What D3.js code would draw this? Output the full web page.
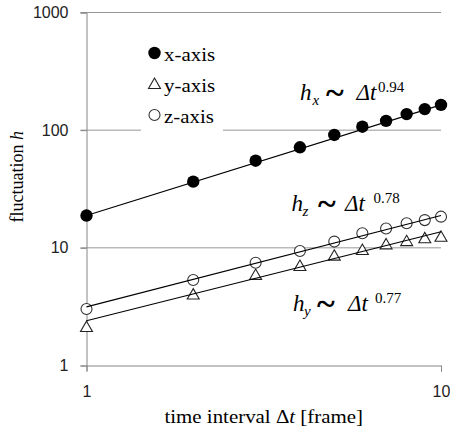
<head>
  <meta charset="UTF-8">
  <script src="https://d3js.org/d3.v7.min.js"></script>
</head>
<body style="margin:0;background:#fff">
  <svg id="chart" width="450" height="429"></svg>
</body>
<style>
  .tick text { font-family: 'Liberation Sans', Arial, sans-serif; font-size: 16px; fill: #222; }
</style>
<script type="text/javascript">
  // data
  const frames = [1, 2, 3, 4, 5, 6, 7, 8, 9, 10];
  const hx = [18.8, 36.5, 55.0, 71.5, 91, 107, 120, 137, 151, 164];
  const hy = [2.12, 4.01, 5.88, 7.01, 8.58, 9.59, 10.7, 11.4, 12.05, 12.4];
  const hz = [3.02, 5.33, 7.47, 9.40, 11.3, 13.3, 14.6, 16.2, 17.2, 18.4];
  // fit lines, value at t = 1 and t = 10
  const fitEnds = [1, 10];
  const fitX = [18.8, 164];
  const fitY = [2.40, 13.7];
  const fitZ = [3.15, 18.8];
  const yTicks = [1, 10, 100, 1000];
  const xTicks = [1, 10];
  const legendNames = ['x-axis', 'y-axis', 'z-axis'];

  const SERIF = "'Liberation Serif', 'Times New Roman', 'DejaVu Serif', serif";

  const svg = d3.select('#chart');

  const x = d3.scaleLog().domain([1, 10]).range([86.5, 441]);
  const y = d3.scaleLog().domain([1, 1000]).range([365.5, 12.5]);

  // gridlines
  svg.append('g')
    .selectAll('line')
    .data(yTicks.slice(1))
    .join('line')
    .attr('x1', x(1) - 6)
    .attr('x2', x(10))
    .attr('y1', d => y(d))
    .attr('y2', d => y(d))
    .attr('stroke', '#979797')
    .attr('stroke-width', 1);

  // axes
  svg.append('g')
    .attr('transform', `translate(${x(1)},0)`)
    .call(d3.axisLeft(y).tickValues(yTicks).tickFormat(d3.format('d')).tickSizeOuter(0).tickSize(6).tickPadding(12));
  svg.append('g')
    .attr('transform', `translate(0,${y(1)})`)
    .call(d3.axisBottom(x).tickValues(xTicks).tickFormat(d3.format('d')).tickSizeOuter(0).tickSize(6).tickPadding(14));
  svg.selectAll('.domain, .tick line').attr('stroke', '#868686');

  // white box behind legend
  svg.append('rect')
    .attr('x', 141).attr('y', 36).attr('width', 82).attr('height', 96)
    .attr('fill', '#fff');

  const series = [
    { vals: hx, fit: fitX, marker: 'dot' },
    { vals: hy, fit: fitY, marker: 'tri' },
    { vals: hz, fit: fitZ, marker: 'ring' }
  ];

  const tri = d3.symbol().type(d3.symbolTriangle).size(62);

  function drawMarker(sel, kind) {
    if (kind === 'dot') {
      sel.append('circle').attr('r', 6.2).attr('fill', '#000');
    } else if (kind === 'ring') {
      sel.append('circle').attr('r', 5.5).attr('fill', '#fff').attr('stroke', '#333').attr('stroke-width', 1.1);
    } else {
      sel.append('path').attr('d', tri).attr('transform', 'translate(0,1)')
        .attr('fill', '#fff').attr('stroke', '#222').attr('stroke-width', 1.1);
    }
  }

  const marks = svg.append('g');
  series.forEach(s => {
    marks.append('g')
      .selectAll('g')
      .data(s.vals)
      .join('g')
      .attr('transform', (d, i) => `translate(${x(frames[i])},${y(d)})`)
      .each(function () { drawMarker(d3.select(this), s.marker); });
  });

  // fit lines on top
  const line = d3.line().x((d, i) => x(fitEnds[i])).y(d => y(d));
  svg.append('g')
    .selectAll('path')
    .data(series)
    .join('path')
    .attr('d', d => line(d.fit))
    .attr('fill', 'none')
    .attr('stroke', '#000')
    .attr('stroke-width', 1.1);

  // legend
  const legend = svg.append('g');
  legendNames.forEach((name, i) => {
    const ly = 53 + i * 31;
    drawMarker(legend.append('g').attr('transform', `translate(154.5,${ly})`), series[i].marker);
    legend.append('text')
      .attr('transform', `translate(164,${ly + 8}) scale(1.1,1)`)
      .attr('font-family', SERIF)
      .attr('font-size', 19)
      .attr('fill', '#000')
      .text(name);
  });

  // fit labels
  const notes = [
    { sub: 'x', exp: '0.94', x: 300, y: 100, dx: [12.5, 26, 56.5, 78] },
    { sub: 'z', exp: '0.78', x: 291.5, y: 211, dx: [11, 26.5, 53.5, 82] },
    { sub: 'y', exp: '0.77', x: 293, y: 311, dx: [11, 24, 55, 82] }
  ];
  notes.forEach(n => {
    const t = svg.append('text')
      .attr('font-family', SERIF)
      .attr('font-size', 23)
      .attr('fill', '#000');
    t.append('tspan').attr('x', n.x).attr('y', n.y).attr('font-style', 'italic').text('h');
    t.append('tspan').attr('x', n.x + n.dx[0]).attr('y', n.y + 5).attr('font-style', 'italic').attr('font-size', 15).text(n.sub);
    t.append('tspan').attr('x', n.x + n.dx[1]).attr('y', n.y + 4).attr('font-weight', 'bold').attr('font-size', 34).text('~');
    t.append('tspan').attr('x', n.x + n.dx[2]).attr('y', n.y).attr('font-style', 'italic').text('Δt');
    t.append('tspan').attr('x', n.x + n.dx[3]).attr('y', n.y - 8).attr('font-size', 15).text(n.exp);
  });

  // axis titles
  const xt = svg.append('text')
    .attr('transform', `translate(${(x(1) + x(10)) / 2},423) scale(1.1,1)`)
    .attr('font-family', SERIF)
    .attr('text-anchor', 'middle')
    .attr('font-size', 19)
    .attr('fill', '#000');
  xt.append('tspan').text('time interval Δ');
  xt.append('tspan').attr('font-style', 'italic').text('t');
  xt.append('tspan').text(' [frame]');

  const yt = svg.append('text')
    .attr('transform', 'translate(23,131) rotate(-90)')
    .attr('font-family', SERIF)
    .attr('text-anchor', 'end')
    .attr('font-size', 18)
    .attr('fill', '#000');
  yt.append('tspan').text('fluctuation ');
  yt.append('tspan').attr('font-style', 'italic').text('h');
</script>
